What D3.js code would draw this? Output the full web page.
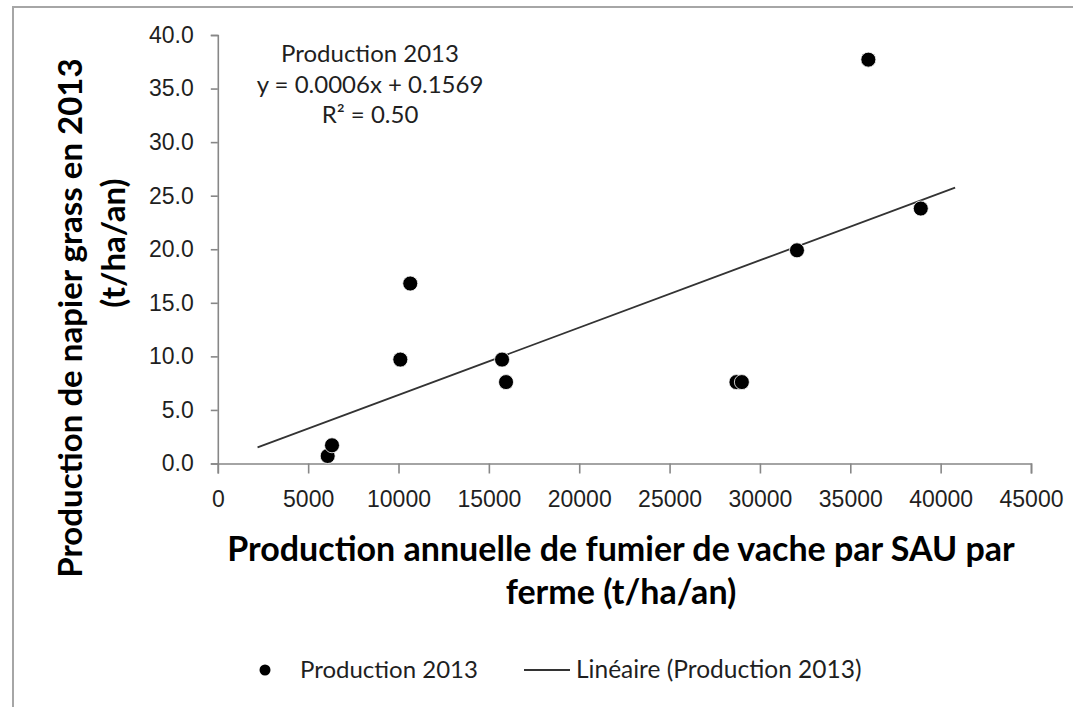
<!DOCTYPE html>
<html>
<head>
<meta charset="utf-8">
<script src="https://cdn.jsdelivr.net/npm/d3@7"></script>
<style>
  body { margin: 0; background: #fff; }
  svg { display: block; font-family: Lato, "Open Sans", sans-serif; }
</style>
</head>
<body>
<div id="chart"></div>
<script>
// data
var xVals = [6080, 6320, 10100, 10650, 15730, 15950, 28700, 29000, 32050, 36000, 38900];
var yVals = [0.7, 1.7, 9.7, 16.8, 9.7, 7.6, 7.6, 7.6, 19.9, 37.7, 23.8];
var trendX = [2200, 40800];
var trendY = [1.5, 25.75];
var xTicks = [0, 5000, 10000, 15000, 20000, 25000, 30000, 35000, 40000, 45000];
var yTicks = [0, 5, 10, 15, 20, 25, 30, 35, 40];
var seriesName = "Production 2013";
var trendName = "Linéaire (Production 2013)";
var eqLines = ["Production 2013", "y = 0.0006x + 0.1569", "R² = 0.50"];

var width = 1073, height = 707;
var margin = {top: 35, right: 42, bottom: 243.5, left: 217.8};

var svg = d3.select("#chart")
  .append("svg")
    .attr("width", width)
    .attr("height", height);

// outer chart frame
svg.append("rect")
  .attr("x", 13).attr("y", 7)
  .attr("width", 1100).attr("height", 750)
  .attr("fill", "none")
  .attr("stroke", "#a6a6a6")
  .attr("stroke-width", 2);

var x = d3.scaleLinear()
  .domain([0, 45000])
  .range([margin.left, width - margin.right]);

var y = d3.scaleLinear()
  .domain([0, 40])
  .range([height - margin.bottom, margin.top]);

// X axis
svg.append("g")
  .attr("id", "xAxis")
  .attr("transform", "translate(0," + y(0) + ")")
  .call(d3.axisBottom(x).tickValues(xTicks).tickSize(10).tickPadding(17)
    .tickFormat(d3.format("d")));

// Y axis
svg.append("g")
  .attr("id", "yAxis")
  .attr("transform", "translate(" + x(0) + ",0)")
  .call(d3.axisLeft(y).tickValues(yTicks).tickSize(7).tickPadding(17)
    .tickFormat(d3.format(".1f")));

svg.selectAll("#xAxis path, #yAxis path, #xAxis line, #yAxis line")
  .attr("stroke", "#878787")
  .attr("stroke-width", 1.6);
svg.selectAll("#xAxis text, #yAxis text")
  .attr("fill", "#1f1f1f")
  .style("font-size", "23px");

// trend line
svg.append("line")
  .attr("x1", x(trendX[0])).attr("y1", y(trendY[0]))
  .attr("x2", x(trendX[1])).attr("y2", y(trendY[1]))
  .attr("stroke", "#333")
  .attr("stroke-width", 1.8);

// dots
svg.append("g")
  .selectAll("circle")
  .data(xVals)
  .enter()
  .append("circle")
    .attr("cx", function (d) { return x(d); })
    .attr("cy", function (d, i) { return y(yVals[i]); })
    .attr("r", 7.5)
    .attr("fill", "#000")
    .attr("stroke", "#fff")
    .attr("stroke-width", 0.8);

// equation label
var eqBase = [62, 93, 123];
svg.append("g")
  .selectAll("text")
  .data(eqLines)
  .enter()
  .append("text")
    .attr("x", 370)
    .attr("y", function (d, i) { return eqBase[i]; })
    .attr("text-anchor", "middle")
    .attr("fill", "#1f1f1f")
    .style("font-size", "24px")
    .text(function (d) { return d; });

// X title
var xTitle = ["Production annuelle de fumier de vache par SAU par", "ferme (t/ha/an)"];
svg.append("g")
  .selectAll("text")
  .data(xTitle)
  .enter()
  .append("text")
    .attr("x", 621)
    .attr("y", function (d, i) { return 561 + i * 43; })
    .attr("text-anchor", "middle")
    .attr("fill", "#000")
    .style("font-size", "34px")
    .style("font-weight", "bold")
    .text(function (d) { return d; });

// Y title
svg.append("text")
  .attr("transform", "translate(82,318) rotate(-90)")
  .attr("text-anchor", "middle")
  .attr("fill", "#000")
  .style("font-size", "33px")
  .style("font-weight", "bold")
  .text("Production de napier grass en 2013");
svg.append("text")
  .attr("transform", "translate(125,243) rotate(-90)")
  .attr("text-anchor", "middle")
  .attr("fill", "#000")
  .style("font-size", "33px")
  .style("font-weight", "bold")
  .text("(t/ha/an)");

// legend
var leg = svg.append("g").attr("transform", "translate(0,670)");
leg.append("circle")
  .attr("cx", 265).attr("cy", 0).attr("r", 5.5)
  .attr("fill", "#000");
leg.append("text")
  .attr("x", 300).attr("y", 8)
  .attr("fill", "#1f1f1f")
  .style("font-size", "24px")
  .text(seriesName);
leg.append("line")
  .attr("x1", 524).attr("x2", 570)
  .attr("y1", 0).attr("y2", 0)
  .attr("stroke", "#333")
  .attr("stroke-width", 1.8);
leg.append("text")
  .attr("x", 576).attr("y", 8)
  .attr("fill", "#1f1f1f")
  .style("font-size", "24.5px")
  .text(trendName);
</script>
</body>
</html>
